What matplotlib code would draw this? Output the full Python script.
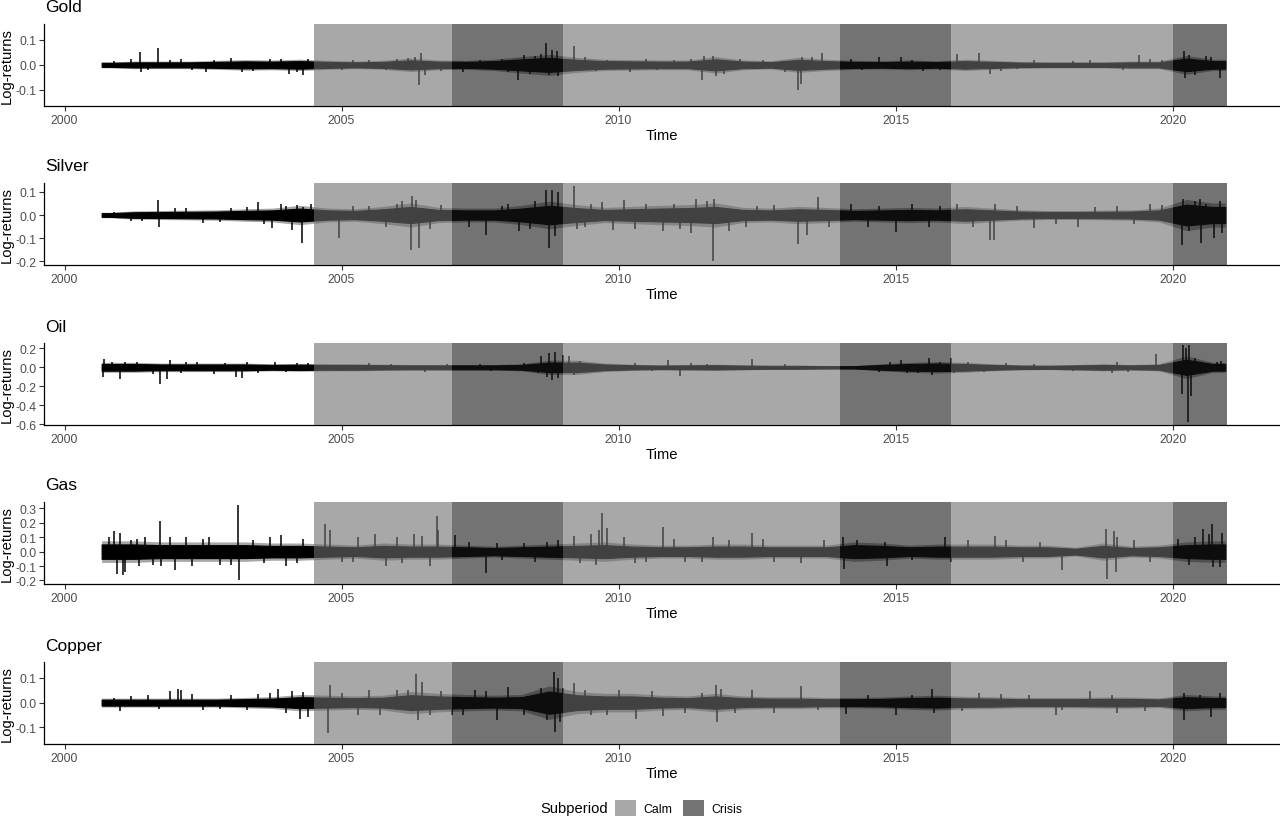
import numpy as np
import matplotlib
matplotlib.use("Agg")
import matplotlib.pyplot as plt
from matplotlib.patches import Patch

plt.rcParams['font.family'] = ['Liberation Sans', 'DejaVu Sans']
plt.rcParams['axes.unicode_minus'] = False

# ---------------- data ----------------
# dense "core" band of daily log-returns: half-width per half-year segment
band_edges = [2000.67, 2001.0, 2001.5, 2002.0, 2002.5, 2003.0, 2003.5, 2004.0, 2004.5,
              2005.0, 2005.5, 2006.0, 2006.5, 2007.0, 2007.5, 2008.0, 2008.5, 2009.0,
              2009.5, 2010.0, 2010.5, 2011.0, 2011.5, 2012.0, 2012.5, 2013.0, 2013.5,
              2014.0, 2014.5, 2015.0, 2015.5, 2016.0, 2016.5, 2017.0, 2017.5, 2018.0,
              2018.5, 2019.0, 2019.5, 2020.0, 2020.5, 2020.95]

gold_band = [0.008, 0.010, 0.010, 0.010, 0.012, 0.014, 0.013, 0.015, 0.012, 0.010,
             0.012, 0.018, 0.013, 0.012, 0.015, 0.022, 0.028, 0.020, 0.015, 0.014,
             0.013, 0.013, 0.022, 0.013, 0.011, 0.020, 0.015, 0.012, 0.011, 0.013,
             0.011, 0.015, 0.012, 0.009, 0.008, 0.008, 0.008, 0.010, 0.010, 0.025, 0.015]
gold_spike_t = [2001.36, 2001.38, 2001.69, 2001.2, 2002.1, 2002.3, 2002.55, 2003.0, 2003.2,
                2003.7, 2004.05, 2004.3, 2004.4, 2005.5, 2006.0, 2006.32, 2006.4, 2006.43,
                2006.5, 2007.2, 2007.9, 2008.19, 2008.3, 2008.6, 2008.69, 2008.75, 2008.8,
                2008.88, 2008.9, 2009.2, 2009.6, 2010.2, 2010.5, 2011.0, 2011.5, 2011.55,
                2011.7, 2011.75, 2012.2, 2013.24, 2013.3, 2013.31, 2013.68, 2014.2, 2014.7,
                2015.1, 2015.5, 2016.1, 2016.5, 2016.7, 2016.9, 2017.5, 2018.5, 2019.4,
                2019.6, 2020.2, 2020.22, 2020.3, 2020.6, 2020.85,
                2000.9, 2001.5, 2001.9, 2002.7, 2003.4, 2003.9, 2004.2, 2005.0, 2005.2,
                2005.8, 2006.2, 2006.8, 2007.5, 2008.0, 2008.4, 2008.5, 2009.4, 2009.8,
                2010.7, 2011.3, 2011.9, 2012.6, 2013.0, 2013.5, 2014.4, 2015.3, 2015.8,
                2017.2, 2018.2, 2019.1, 2019.8, 2020.4, 2020.7]
gold_spike_v = [0.05, -0.028, 0.066, 0.025, 0.022, -0.022, -0.03, 0.028, -0.03,
                0.025, -0.035, -0.04, 0.025, 0.02, 0.025, 0.03, -0.08, 0.046,
                -0.04, -0.03, 0.025, -0.062, 0.04, 0.045, 0.087, -0.04, 0.06,
                0.057, -0.045, 0.077, -0.025, -0.03, 0.025, 0.02, -0.062, 0.037,
                0.035, -0.045, 0.025, -0.1, -0.075, 0.03, 0.046, 0.025, 0.03,
                0.03, -0.025, 0.044, 0.048, -0.036, -0.025, 0.02, 0.02, 0.04,
                0.025, 0.057, -0.053, 0.04, 0.035, -0.053,
                0.015, -0.02, 0.02, 0.02, -0.025, 0.022, -0.03, -0.02, 0.018,
                -0.022, 0.028, -0.025, 0.02, -0.03, -0.035, 0.035, 0.03, 0.02,
                -0.02, 0.025, -0.035, 0.02, -0.03, 0.03, -0.02, 0.02, -0.02,
                -0.018, 0.015, -0.02, 0.02, -0.04, 0.03]

silver_band = [0.008, 0.012, 0.013, 0.014, 0.015, 0.018, 0.020, 0.028, 0.020, 0.018,
               0.025, 0.035, 0.022, 0.020, 0.020, 0.028, 0.040, 0.030, 0.022, 0.025,
               0.028, 0.030, 0.035, 0.022, 0.020, 0.025, 0.022, 0.018, 0.020, 0.022,
               0.020, 0.025, 0.020, 0.015, 0.013, 0.013, 0.014, 0.015, 0.020, 0.045, 0.035]
silver_spike_t = [2001.2, 2001.69, 2001.7, 2002.2, 2002.5, 2003.0, 2003.5, 2003.6, 2003.75,
                  2003.9, 2004.1, 2004.28, 2004.3, 2004.45, 2004.96, 2005.5, 2006.0, 2006.26,
                  2006.28, 2006.35, 2006.4, 2006.6, 2007.6, 2007.9, 2008.2, 2008.5, 2008.69,
                  2008.75, 2008.8, 2008.85, 2008.9, 2009.2, 2009.25, 2009.5, 2009.9, 2010.1,
                  2010.3, 2010.8, 2011.0, 2011.3, 2011.4, 2011.7, 2011.72, 2012.0, 2012.5,
                  2013.24, 2013.4, 2013.6, 2014.2, 2014.5, 2015.0, 2015.3, 2015.8, 2016.1,
                  2016.7, 2016.78, 2016.8, 2017.5, 2018.3, 2019.0, 2019.6, 2020.17, 2020.18,
                  2020.3, 2020.5, 2020.52, 2020.6, 2020.75, 2020.85,
                  2000.9, 2001.4, 2002.0, 2002.8, 2003.3, 2004.0, 2004.2, 2005.2, 2005.8,
                  2006.1, 2006.8, 2007.3, 2008.0, 2008.4, 2009.4, 2009.7, 2010.5, 2011.1,
                  2011.6, 2012.3, 2012.8, 2013.8, 2014.7, 2015.6, 2016.4, 2017.2, 2017.9,
                  2018.6, 2019.3, 2019.8, 2020.4, 2020.9]
silver_spike_v = [-0.025, 0.064, -0.05, 0.03, -0.035, 0.03, 0.057, -0.04, -0.057,
                  0.05, -0.064, -0.121, 0.036, 0.05, -0.1, 0.04, 0.05, -0.15,
                  0.083, 0.065, -0.143, -0.06, -0.086, 0.04, -0.07, 0.06, 0.107,
                  -0.143, 0.11, -0.09, 0.1, 0.125, -0.06, 0.05, -0.064, 0.064,
                  -0.06, -0.07, 0.05, -0.08, 0.07, -0.2, 0.07, -0.07, 0.04,
                  -0.126, -0.085, 0.08, 0.05, -0.05, -0.074, 0.05, 0.04, 0.05,
                  -0.107, -0.107, 0.05, -0.057, -0.05, 0.04, 0.05, -0.129, 0.071,
                  -0.07, 0.071, -0.12, 0.05, -0.1, 0.06,
                  0.015, -0.025, 0.03, -0.03, 0.035, 0.04, 0.045, 0.04, -0.05,
                  0.06, 0.045, -0.05, 0.05, -0.06, -0.05, 0.055, 0.05, -0.06,
                  0.06, -0.05, 0.045, -0.05, 0.04, -0.05, -0.05, 0.04, -0.04,
                  0.035, -0.04, 0.045, 0.06, -0.08]

oil_band = [0.035, 0.035, 0.030, 0.030, 0.030, 0.030, 0.025, 0.028, 0.025, 0.025,
            0.022, 0.020, 0.020, 0.020, 0.020, 0.025, 0.050, 0.050, 0.030, 0.022,
            0.018, 0.020, 0.022, 0.018, 0.015, 0.015, 0.012, 0.012, 0.025, 0.035,
            0.040, 0.035, 0.025, 0.018, 0.016, 0.020, 0.025, 0.020, 0.025, 0.080, 0.035]
oil_spike_t = [2000.7, 2000.72, 2001.0, 2001.3, 2001.72, 2001.85, 2001.9, 2002.2, 2002.7,
               2003.1, 2003.2, 2003.3, 2003.8, 2004.2, 2005.5, 2006.5, 2007.5, 2008.6,
               2008.7, 2008.75, 2008.8, 2008.85, 2008.9, 2009.0, 2009.1, 2009.2, 2010.3,
               2010.9, 2011.1, 2011.3, 2012.4, 2014.9, 2015.1, 2015.2, 2015.6, 2015.65,
               2016.0, 2016.05, 2016.3, 2017.0, 2018.9, 2019.0, 2019.7, 2020.17, 2020.18,
               2020.25, 2020.28, 2020.3, 2020.33, 2020.4, 2020.8, 2020.88,
               2000.85, 2001.1, 2001.6, 2002.1, 2002.4, 2002.9, 2003.5, 2004.0, 2004.4,
               2005.0, 2005.9, 2006.9, 2007.7, 2008.3, 2008.55, 2009.3, 2009.5, 2010.6,
               2011.6, 2013.0, 2014.7, 2015.4, 2015.8, 2016.6, 2017.5, 2018.2, 2019.2,
               2020.6]
oil_spike_v = [-0.1, 0.09, -0.12, 0.06, -0.175, -0.12, 0.08, 0.06, -0.07,
               -0.1, -0.115, 0.06, 0.06, 0.05, 0.05, -0.05, 0.04, 0.12,
               -0.1, 0.15, -0.13, 0.165, -0.11, 0.13, 0.12, -0.08, 0.05,
               0.08, -0.09, 0.05, 0.088, 0.06, 0.08, -0.06, 0.1, -0.08,
               0.1, -0.06, 0.06, 0.05, -0.06, 0.06, 0.14, -0.28, 0.235,
               0.2, -0.58, 0.23, -0.3, 0.1, 0.06, 0.07,
               0.06, 0.06, -0.07, -0.06, 0.06, 0.05, -0.06, -0.05, 0.05,
               -0.04, 0.04, 0.03, -0.04, 0.05, -0.06, 0.07, -0.05, -0.04,
               0.04, 0.03, -0.05, -0.06, 0.06, -0.05, 0.04, -0.04, -0.05,
               -0.06]

gas_band = [0.050, 0.050, 0.045, 0.045, 0.045, 0.045, 0.040, 0.040, 0.035, 0.030,
            0.040, 0.035, 0.035, 0.030, 0.025, 0.030, 0.035, 0.040, 0.045, 0.035,
            0.030, 0.030, 0.035, 0.035, 0.030, 0.030, 0.030, 0.045, 0.040, 0.030,
            0.035, 0.035, 0.035, 0.030, 0.030, 0.020, 0.040, 0.025, 0.030, 0.045, 0.050]
gas_spike_t = [2000.8, 2000.9, 2000.95, 2001.0, 2001.05, 2001.1, 2001.2, 2001.35, 2001.45,
               2001.73, 2001.75, 2001.9, 2002.0, 2002.2, 2002.5, 2002.8, 2003.13, 2003.15,
               2003.4, 2003.7, 2003.9, 2004.0, 2004.3, 2004.7, 2004.8, 2005.0, 2005.6,
               2005.8, 2006.0, 2006.3, 2006.6, 2006.73, 2006.75, 2007.05, 2007.6, 2007.8,
               2008.3, 2008.7, 2008.9, 2009.2, 2009.5, 2009.6, 2009.7, 2009.8, 2010.1,
               2010.5, 2010.8, 2011.2, 2011.7, 2012.4, 2012.6, 2013.3, 2014.05, 2014.07,
               2014.8, 2014.85, 2015.9, 2016.3, 2016.8, 2017.3, 2018.0, 2018.8, 2018.82,
               2018.95, 2018.97, 2019.3, 2020.1, 2020.4, 2020.55, 2020.65, 2020.71, 2020.72,
               2020.85,
               2001.3, 2001.6, 2002.3, 2002.6, 2003.0, 2003.6, 2004.2, 2005.3, 2005.2,
               2006.1, 2006.45, 2007.3, 2007.9, 2008.5, 2009.3, 2009.65, 2010.3, 2011.0,
               2011.5, 2012.0, 2012.8, 2013.7, 2014.3, 2015.3, 2016.0, 2017.0, 2017.6,
               2019.0, 2019.6, 2020.3, 2020.9]
gas_spike_v = [0.1, 0.14, -0.155, 0.13, -0.16, -0.14, 0.08, -0.1, 0.1,
               0.21, -0.1, 0.1, -0.126, 0.1, 0.09, -0.09, 0.326, -0.195,
               0.08, 0.1, 0.115, -0.1, 0.09, 0.19, 0.15, -0.07, 0.12,
               -0.1, 0.1, 0.12, -0.1, 0.25, 0.15, 0.115, -0.15, 0.06,
               0.06, 0.07, 0.08, 0.11, 0.12, -0.09, 0.27, 0.165, 0.1,
               -0.07, 0.17, -0.07, 0.1, 0.13, 0.09, -0.08, 0.1, -0.124,
               0.07, -0.1, 0.1, 0.08, 0.11, -0.07, -0.13, 0.16, -0.19,
               0.145, -0.14, 0.08, 0.09, 0.1, 0.156, 0.12, 0.195, -0.108,
               -0.108,
               0.09, -0.09, -0.1, 0.1, -0.09, -0.08, -0.08, 0.1, -0.07,
               -0.08, 0.11, 0.07, -0.06, -0.07, -0.08, 0.15, -0.08, 0.09,
               -0.07, 0.08, -0.07, 0.08, 0.08, -0.06, -0.07, 0.08, 0.07,
               0.1, -0.07, -0.09, 0.13]

copper_band = [0.012, 0.012, 0.012, 0.012, 0.012, 0.014, 0.016, 0.022, 0.020, 0.018,
               0.020, 0.030, 0.025, 0.022, 0.020, 0.022, 0.045, 0.030, 0.025, 0.025,
               0.020, 0.018, 0.025, 0.018, 0.016, 0.016, 0.014, 0.014, 0.015, 0.018,
               0.020, 0.017, 0.016, 0.014, 0.014, 0.014, 0.015, 0.015, 0.013, 0.022, 0.018]
copper_spike_t = [2000.9, 2001.0, 2001.5, 2001.9, 2002.05, 2002.1, 2002.5, 2003.0, 2003.5,
                  2003.85, 2004.0, 2004.25, 2004.3, 2004.4, 2004.75, 2004.8, 2005.3, 2005.5,
                  2006.0, 2006.35, 2006.38, 2006.45, 2006.6, 2007.2, 2007.4, 2007.8, 2008.0,
                  2008.6, 2008.83, 2008.85, 2008.9, 2008.95, 2009.2, 2009.5, 2010.0, 2010.32,
                  2010.8, 2011.5, 2011.76, 2011.78, 2011.85, 2012.4, 2012.8, 2013.3, 2014.1,
                  2015.0, 2015.65, 2015.7, 2016.5, 2017.9, 2018.5, 2019.0, 2020.2, 2020.21,
                  2020.7, 2020.85,
                  2001.2, 2001.7, 2002.3, 2002.8, 2003.3, 2003.7, 2004.1, 2005.0, 2005.7,
                  2006.2, 2006.8, 2007.0, 2007.6, 2008.3, 2008.7, 2009.0, 2009.4, 2009.8,
                  2010.6, 2011.2, 2012.1, 2013.6, 2014.5, 2015.3, 2016.2, 2016.9, 2017.4,
                  2018.0, 2018.9, 2019.5, 2020.5]
copper_spike_v = [0.02, -0.033, 0.03, 0.045, 0.056, 0.052, -0.03, 0.03, 0.035,
                  0.053, -0.04, -0.068, 0.043, -0.06, -0.121, 0.073, -0.05, 0.05,
                  0.05, 0.116, -0.07, 0.083, -0.05, -0.05, 0.05, -0.07, 0.063,
                  0.06, 0.123, -0.117, 0.1, -0.08, 0.08, -0.05, 0.05, -0.065,
                  -0.055, 0.04, 0.07, -0.077, 0.057, 0.05, -0.04, 0.067, -0.045,
                  -0.05, 0.053, -0.04, 0.04, -0.05, 0.047, -0.04, -0.07, 0.04,
                  -0.06, 0.04,
                  0.025, -0.025, 0.035, -0.025, -0.03, 0.04, 0.045, 0.04, -0.05,
                  0.05, 0.045, -0.05, 0.045, -0.05, -0.07, 0.06, 0.05, -0.05,
                  0.045, -0.04, -0.04, -0.03, 0.03, 0.03, -0.035, 0.035, 0.03,
                  -0.03, 0.03, -0.035, 0.03]

commodities = ["Gold", "Silver", "Oil", "Gas", "Copper"]

period_start = [2004.5, 2007.0, 2009.0, 2014.0, 2016.0, 2020.0]
period_end = [2007.0, 2009.0, 2014.0, 2016.0, 2020.0, 2020.98]
period_type = ["Calm", "Crisis", "Calm", "Crisis", "Calm", "Crisis"]

x_ticks = [2000, 2005, 2010, 2015, 2020]
gold_yticks = [-0.1, 0.0, 0.1]
silver_yticks = [-0.2, -0.1, 0.0, 0.1]
oil_yticks = [-0.6, -0.4, -0.2, 0.0, 0.2]
gas_yticks = [-0.2, -0.1, 0.0, 0.1, 0.2, 0.3]
copper_yticks = [-0.1, 0.0, 0.1]

# ---------------- styling / layout ----------------
series = {
    "Gold": (gold_band, gold_spike_t, gold_spike_v, gold_yticks, (-0.164, 0.163)),
    "Silver": (silver_band, silver_spike_t, silver_spike_v, silver_yticks, (-0.217, 0.139)),
    "Oil": (oil_band, oil_spike_t, oil_spike_v, oil_yticks, (-0.607, 0.256)),
    "Gas": (gas_band, gas_spike_t, gas_spike_v, gas_yticks, (-0.225, 0.345)),
    "Copper": (copper_band, copper_spike_t, copper_spike_v, copper_yticks, (-0.167, 0.164)),
}
fill_colors = {"Calm": "#6e6e6e", "Crisis": "#161616"}
SHADE_ALPHA = 0.6
HALO = 1.5  # soft outer edge of the dense band

W, H = 1280, 820
fig = plt.figure(figsize=(W / 100, H / 100), dpi=100)
fig.patch.set_facecolor("white")

tops = [25, 184, 344, 503, 663]
ph = 82
left_px, right_px = 44, 1279

# band knots: start, segment midpoints, end
mids = [(a + b) / 2 for a, b in zip(band_edges[:-1], band_edges[1:])]
knot_t = [band_edges[0]] + mids + [band_edges[-1]]

for name, top in zip(commodities, tops):
    band, st, sv, yt, ylim = series[name]
    ax = fig.add_axes([left_px / W, 1 - (top + ph) / H, (right_px - left_px) / W, ph / H])
    knot_v = np.array([band[0]] + list(band) + [band[-1]])
    ax.fill_between(knot_t, -HALO * knot_v, HALO * knot_v, color="black", alpha=0.35,
                    lw=0, zorder=2)
    ax.fill_between(knot_t, -knot_v, knot_v, color="black", lw=0.8,
                    edgecolor="black", zorder=2)
    ax.vlines(st, 0, sv, color="black", lw=1.1, zorder=2)
    for s, e, p in zip(period_start, period_end, period_type):
        ax.axvspan(s, e, color=fill_colors[p], alpha=SHADE_ALPHA, lw=0, zorder=3)
    ax.set_xlim(1999.63, 2021.92)
    ax.set_ylim(*ylim)
    ax.set_xticks(x_ticks)
    ax.set_xticklabels([str(v) for v in x_ticks])
    ax.set_yticks(yt)
    ax.set_yticklabels([f"{v:.1f}" for v in yt])
    for sp in ["top", "right"]:
        ax.spines[sp].set_visible(False)
    for sp in ["left", "bottom"]:
        ax.spines[sp].set_linewidth(0.9)
        ax.spines[sp].set_color("black")
    ax.tick_params(length=3.5, width=0.8, color="#333333", labelcolor="#4d4d4d",
                   labelsize=8.8, pad=2)
    ax.set_xlabel("Time", fontsize=10.6, labelpad=2, color="black")
    ax.set_ylabel("Log-returns", fontsize=10.6, color="black")
    ax.yaxis.set_label_coords(-0.0245, 0.5)
    ax.set_facecolor("white")
    fig.text(45 / W, 1 - (top - 17) / H, name, fontsize=12.5, ha="left", va="center")

# legend
ly = 1 - 809 / H
fig.text(540 / W, ly, "Subperiod", fontsize=10.6, ha="left", va="center")
handles = [Patch(facecolor=fill_colors["Calm"], alpha=SHADE_ALPHA, lw=0),
           Patch(facecolor=fill_colors["Crisis"], alpha=SHADE_ALPHA, lw=0)]
fig.legend(handles, ["Calm", "Crisis"], ncol=2, loc="center left",
           bbox_to_anchor=(615 / W, ly), frameon=False, fontsize=8.8,
           handlelength=1.75, handleheight=1.75, handletextpad=0.6,
           columnspacing=0.8, borderpad=0, borderaxespad=0)

fig.savefig("out.png", dpi=100, facecolor="white")
